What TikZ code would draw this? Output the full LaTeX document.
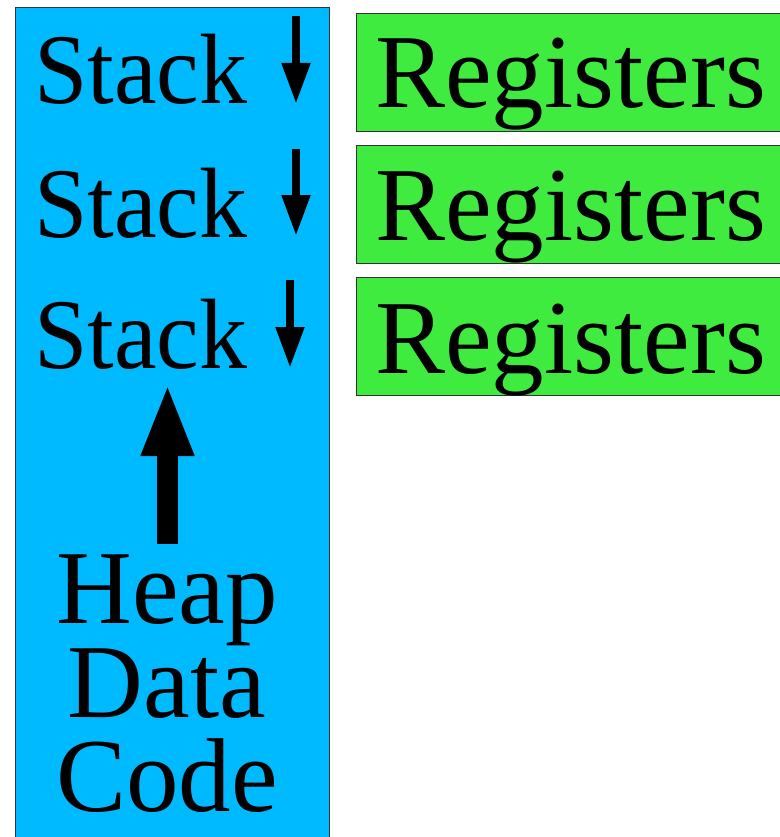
\documentclass[tikz,border=0pt]{standalone}
\usepackage{fontspec}
\setmainfont{Liberation Serif}
\newfontfamily\stackfont[FakeStretch=0.96]{Liberation Serif}
\usetikzlibrary{arrows.meta}
\definecolor{memblue}{RGB}{0,186,255}
\definecolor{reggreen}{RGB}{64,235,64}
\tikzset{
  membox/.style={draw=black!80, line width=0.8pt, fill=memblue},
  regbox/.style={draw=black!80, line width=0.8pt, fill=reggreen},
  stacklbl/.style={anchor=base west, inner sep=0pt, font=\stackfont\fontsize{100}{100}\selectfont},
  reglbl/.style={anchor=base west, inner sep=0pt, font=\fontsize{105}{105}\selectfont},
  heaplbl/.style={anchor=base, inner sep=0pt, align=center, font=\fontsize{105}{94}\selectfont},
  downarrow/.style={line width=8pt, -{Triangle[length=41pt,width=27pt]}},
  uparrow/.style={line width=21pt, -{Triangle[length=73pt,width=48pt]}}
}
\begin{document}
\begin{tikzpicture}[x=1pt,y=-1pt]
\useasboundingbox (0,0) rectangle (779,837);
% memory column
\path[membox] (15.7,7.3) rectangle (329.3,845);
% register boxes
\path[regbox] (356,13) rectangle (790,131);
\path[regbox] (356,145) rectangle (790,263);
\path[regbox] (356,277) rectangle (790,395);
% labels
\node[stacklbl] (s1) at (34,104) {Stack};
\node[stacklbl] (s2) at (34,237) {Stack};
\node[stacklbl] (s3) at (34,368) {Stack};
\node[reglbl] (r1) at (375,108) {Registers};
\node[reglbl] (r2) at (375,240) {Registers};
\node[reglbl] (r3) at (375,373) {Registers};
\node[heaplbl] (seg) at (167,811) {Heap\\Data\\Code};
% arrows
\coordinate (a1s) at (296,16);  \coordinate (a1e) at (296,104);
\coordinate (a2s) at (296,149); \coordinate (a2e) at (296,236);
\coordinate (a3s) at (290,280); \coordinate (a3e) at (290,368);
\coordinate (ups) at (167.5,544); \coordinate (upe) at (167.5,383);
\draw[downarrow] (a1s) -- (a1e);
\draw[downarrow] (a2s) -- (a2e);
\draw[downarrow] (a3s) -- (a3e);
\draw[uparrow] (ups) -- (upe);
\end{tikzpicture}
\end{document}
